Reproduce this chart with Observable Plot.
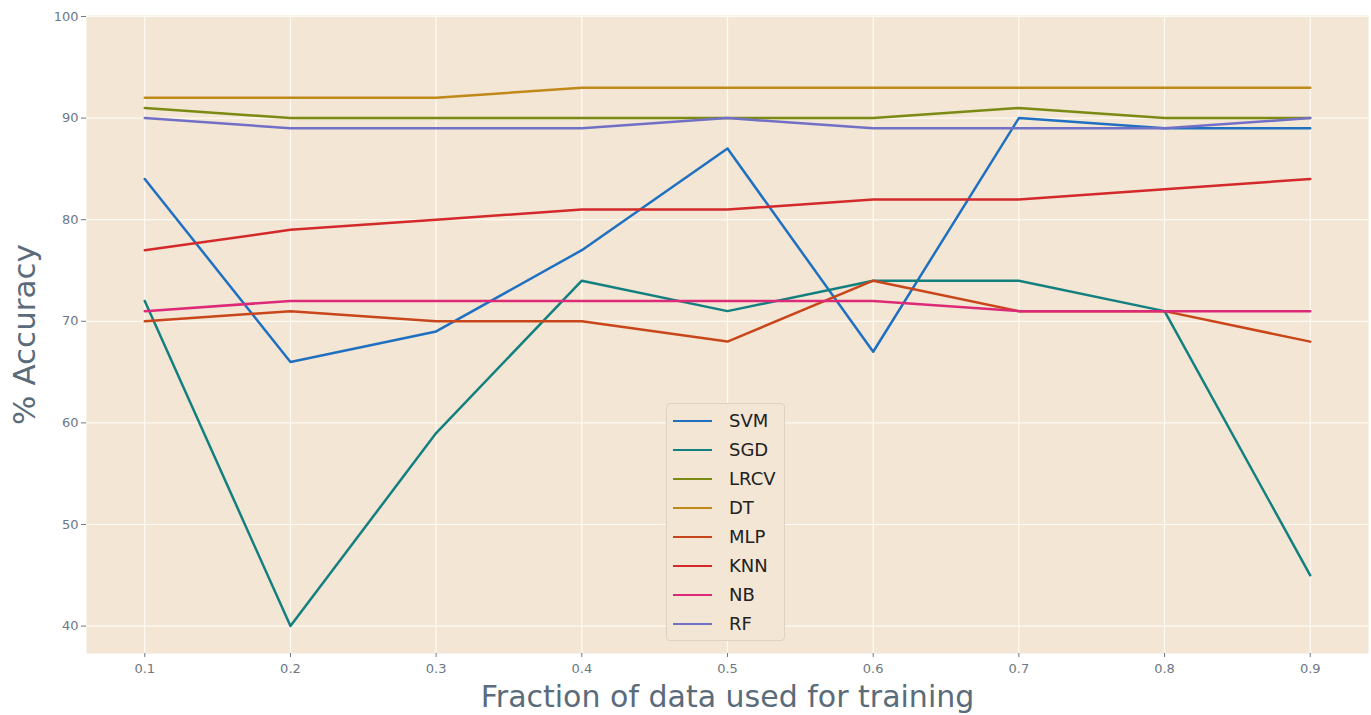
<!DOCTYPE html>
<html>
<head>
<meta charset="utf-8">
<script src="https://cdn.jsdelivr.net/npm/d3@7"></script>
<script src="https://cdn.jsdelivr.net/npm/@observablehq/plot@0.6"></script>
<style>
  html, body { margin: 0; padding: 0; background: #ffffff; }
  #wrap { position: relative; width: 1371px; height: 715px; font-family: "DejaVu Sans", sans-serif; }
  #legend { position: absolute; left: 666px; top: 403px; width: 119px; height: 238px;
    background: #f3e6d4; border: 1px solid #ddd3c4; border-radius: 4px; box-sizing: border-box; }
  .row { position: absolute; left: 0; height: 29px; display: flex; align-items: center; }
  .swatch { width: 39px; height: 0; border-top: 2.5px solid; margin-left: 6px; margin-right: 17px; }
  .lab { font-size: 18px; color: #222; line-height: 1; }
</style>
</head>
<body>
<div id="wrap"><div id="chart"></div><div id="legend"></div></div>
<script>
const fractions = [0.1, 0.2, 0.3, 0.4, 0.5, 0.6, 0.7, 0.8, 0.9];
const seriesNames = ["SVM", "SGD", "LRCV", "DT", "MLP", "KNN", "NB", "RF"];
const seriesColors = ["#1f70c1", "#13807f", "#7a8a12", "#c08a1a", "#c9461b", "#d3292a", "#dc2a78", "#7270c6"];
const SVM  = [84, 66, 69, 77, 87, 67, 90, 89, 89];
const SGD  = [72, 40, 59, 74, 71, 74, 74, 71, 45];
const LRCV = [91, 90, 90, 90, 90, 90, 91, 90, 90];
const DT   = [92, 92, 92, 93, 93, 93, 93, 93, 93];
const MLP  = [70, 71, 70, 70, 68, 74, 71, 71, 68];
const KNN  = [77, 79, 80, 81, 81, 82, 82, 83, 84];
const NB   = [71, 72, 72, 72, 72, 72, 71, 71, 71];
const RF   = [90, 89, 89, 89, 90, 89, 89, 89, 90];
const yTicks = [40, 50, 60, 70, 80, 90, 100];
const xLabel = "Fraction of data used for training";
const yLabel = "% Accuracy";

const seriesValues = [SVM, SGD, LRCV, DT, MLP, KNN, NB, RF];
const rows = [];
seriesNames.forEach((name, i) => {
  fractions.forEach((f, j) => rows.push({ model: name, fraction: f, acc: seriesValues[i][j] }));
});

const tickColor = "#6d7883";
const labelColor = "#5a6b7a";

const chart = Plot.plot({
  width: 1371,
  height: 715,
  marginLeft: 86,
  marginRight: 3,
  marginTop: 15,
  marginBottom: 62,
  style: { fontFamily: "DejaVu Sans, sans-serif", background: "transparent" },
  x: { domain: [0.06, 0.94] },
  y: { domain: [37.3, 100.1] },
  color: { domain: seriesNames, range: seriesColors },
  marks: [
    Plot.frame({ fill: "#f3e6d4", stroke: null }),
    Plot.gridX(fractions, { stroke: "#fffaf2", strokeOpacity: 1, strokeWidth: 1.2 }),
    Plot.gridY(yTicks, { stroke: "#fffaf2", strokeOpacity: 1, strokeWidth: 1.2 }),
    Plot.axisX(fractions, { label: null, tickSize: 4, tickPadding: 6, fontSize: 13, color: tickColor, tickFormat: d => d.toFixed(1) }),
    Plot.axisY(yTicks, { label: null, tickSize: 5, tickPadding: 3, fontSize: 13, color: tickColor }),
    Plot.line(rows, { x: "fraction", y: "acc", z: "model", stroke: "model", strokeWidth: 2.5 }),
    Plot.text([yLabel], { frameAnchor: "left", textAnchor: "middle", dx: -61, rotate: -90, fontSize: 31, fill: labelColor, text: d => d }),
    Plot.text([xLabel], { frameAnchor: "bottom", textAnchor: "middle", dy: 44, fontSize: 30, fill: labelColor, text: d => d, lineAnchor: "middle" })
  ]
});
document.getElementById("chart").appendChild(chart);

const legend = document.getElementById("legend");
seriesNames.forEach((name, i) => {
  const r = document.createElement("div");
  r.className = "row";
  r.style.top = (2 + i * 29) + "px";
  const s = document.createElement("div");
  s.className = "swatch";
  s.style.borderTopColor = seriesColors[i];
  const t = document.createElement("span");
  t.className = "lab";
  t.textContent = name;
  r.appendChild(s); r.appendChild(t);
  legend.appendChild(r);
});
</script>
</body>
</html>
